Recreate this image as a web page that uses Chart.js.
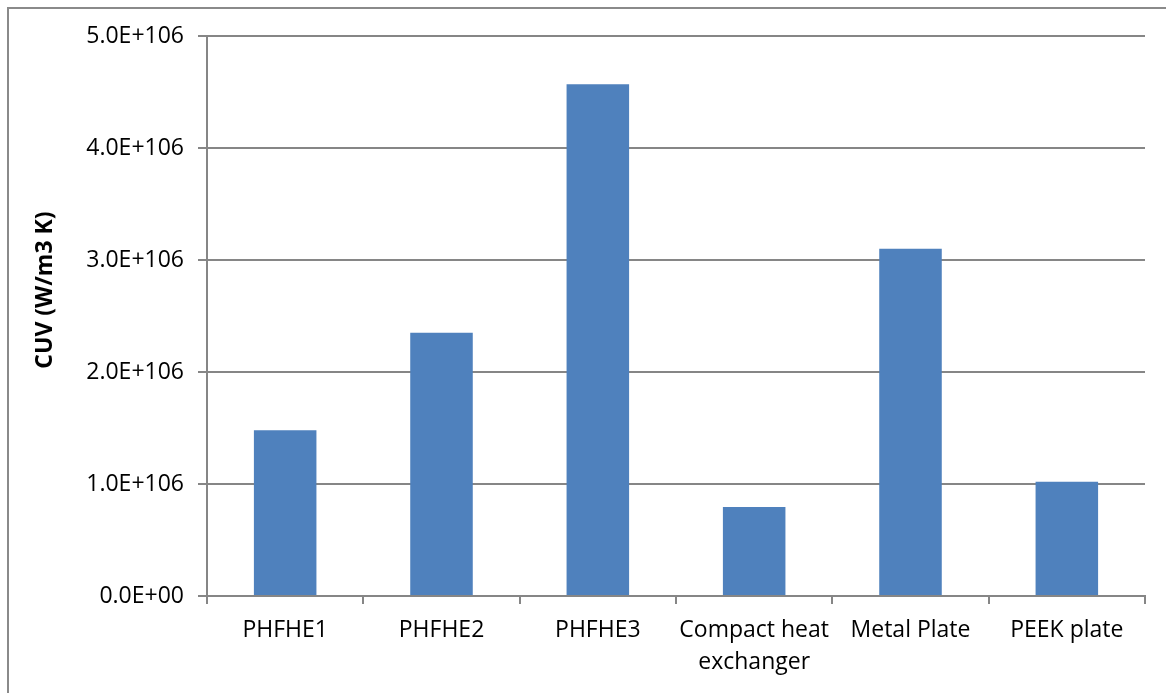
<!DOCTYPE html>
<html>
<head>
<meta charset="utf-8">
<script src="https://cdn.jsdelivr.net/npm/chart.js@4.4.1/dist/chart.umd.min.js"></script>
<style>
  html, body { margin: 0; padding: 0; background: #fff; }
  #wrap { position: relative; width: 1166px; height: 693px; }
  #frame { position: absolute; left: 7px; top: 7px; right: -5px; bottom: -5px;
           border-left: 2px solid #8a8a8a; border-top: 2px solid #8a8a8a; pointer-events: none; }
</style>
</head>
<body>
<div id="wrap">
  <canvas id="bar_chart" width="1166" height="693"></canvas>
  <div id="frame"></div>
</div>
<script>
// categories and values
const categories = ["PHFHE1", "PHFHE2", "PHFHE3", ["Compact heat", "exchanger"], "Metal Plate", "PEEK plate"];
const cuvValues = [1480000, 2350000, 4570000, 795000, 3100000, 1020000];
const yTickValues = [0, 1000000, 2000000, 3000000, 4000000, 5000000];
const yTickLabels = ["0.0E+00", "1.0E+106", "2.0E+106", "3.0E+106", "4.0E+106", "5.0E+106"];
const yTitle = "CUV (W/m3 K)";

const gridColor = '#868686';
const fontFamily = "'Open Sans', 'Liberation Sans', sans-serif";

// y axis title, drawn by hand so it sits where the original has it
const yTitlePlugin = {
    id: 'yTitle',
    afterDraw(chart) {
        const ctx = chart.ctx;
        ctx.save();
        ctx.translate(45, 290);
        ctx.rotate(-Math.PI / 2);
        ctx.font = "bold 23px " + fontFamily;
        ctx.fillStyle = '#000';
        ctx.textAlign = 'center';
        ctx.textBaseline = 'middle';
        ctx.fillText(yTitle, 0, 0);
        ctx.restore();
    }
};

function getChartJs() {
    return {
        type: 'bar',
        data: {
            labels: categories,
            datasets: [{
                label: yTitle,
                data: cuvValues,
                backgroundColor: '#4f81bd',
                barPercentage: 0.4,
                categoryPercentage: 1.0
            }]
        },
        options: {
            responsive: false,
            animation: false,
            layout: { padding: { top: 36, right: 21, bottom: 0, left: 0 } },
            plugins: {
                legend: { display: false },
                tooltip: { enabled: false }
            },
            scales: {
                x: {
                    offset: true,
                    grid: {
                        offset: true,
                        drawOnChartArea: false,
                        drawTicks: true,
                        tickLength: 8,
                        color: gridColor,
                        lineWidth: 2
                    },
                    border: { color: gridColor, width: 2 },
                    ticks: {
                        color: '#000',
                        padding: 10,
                        maxRotation: 0,
                        autoSkip: false,
                        font: { family: fontFamily, size: 23, lineHeight: 1.4 }
                    },
                    afterFit(scale) { scale.height = 97; }
                },
                y: {
                    min: 0,
                    max: 5000000,
                    afterBuildTicks(scale) {
                        scale.ticks = yTickValues.map(v => ({ value: v }));
                    },
                    grid: {
                        color: gridColor,
                        lineWidth: 2,
                        drawTicks: true,
                        tickLength: 9
                    },
                    border: { color: gridColor, width: 2 },
                    ticks: {
                        color: '#000',
                        padding: 14,
                        font: { family: fontFamily, size: 23 },
                        callback: function (value) {
                            const i = yTickValues.indexOf(value);
                            return i >= 0 ? yTickLabels[i] : '';
                        }
                    },
                    afterFit(scale) { scale.width = 207; }
                }
            }
        },
        plugins: [yTitlePlugin]
    };
}

new Chart(document.getElementById("bar_chart").getContext("2d"), getChartJs());
</script>
</body>
</html>
